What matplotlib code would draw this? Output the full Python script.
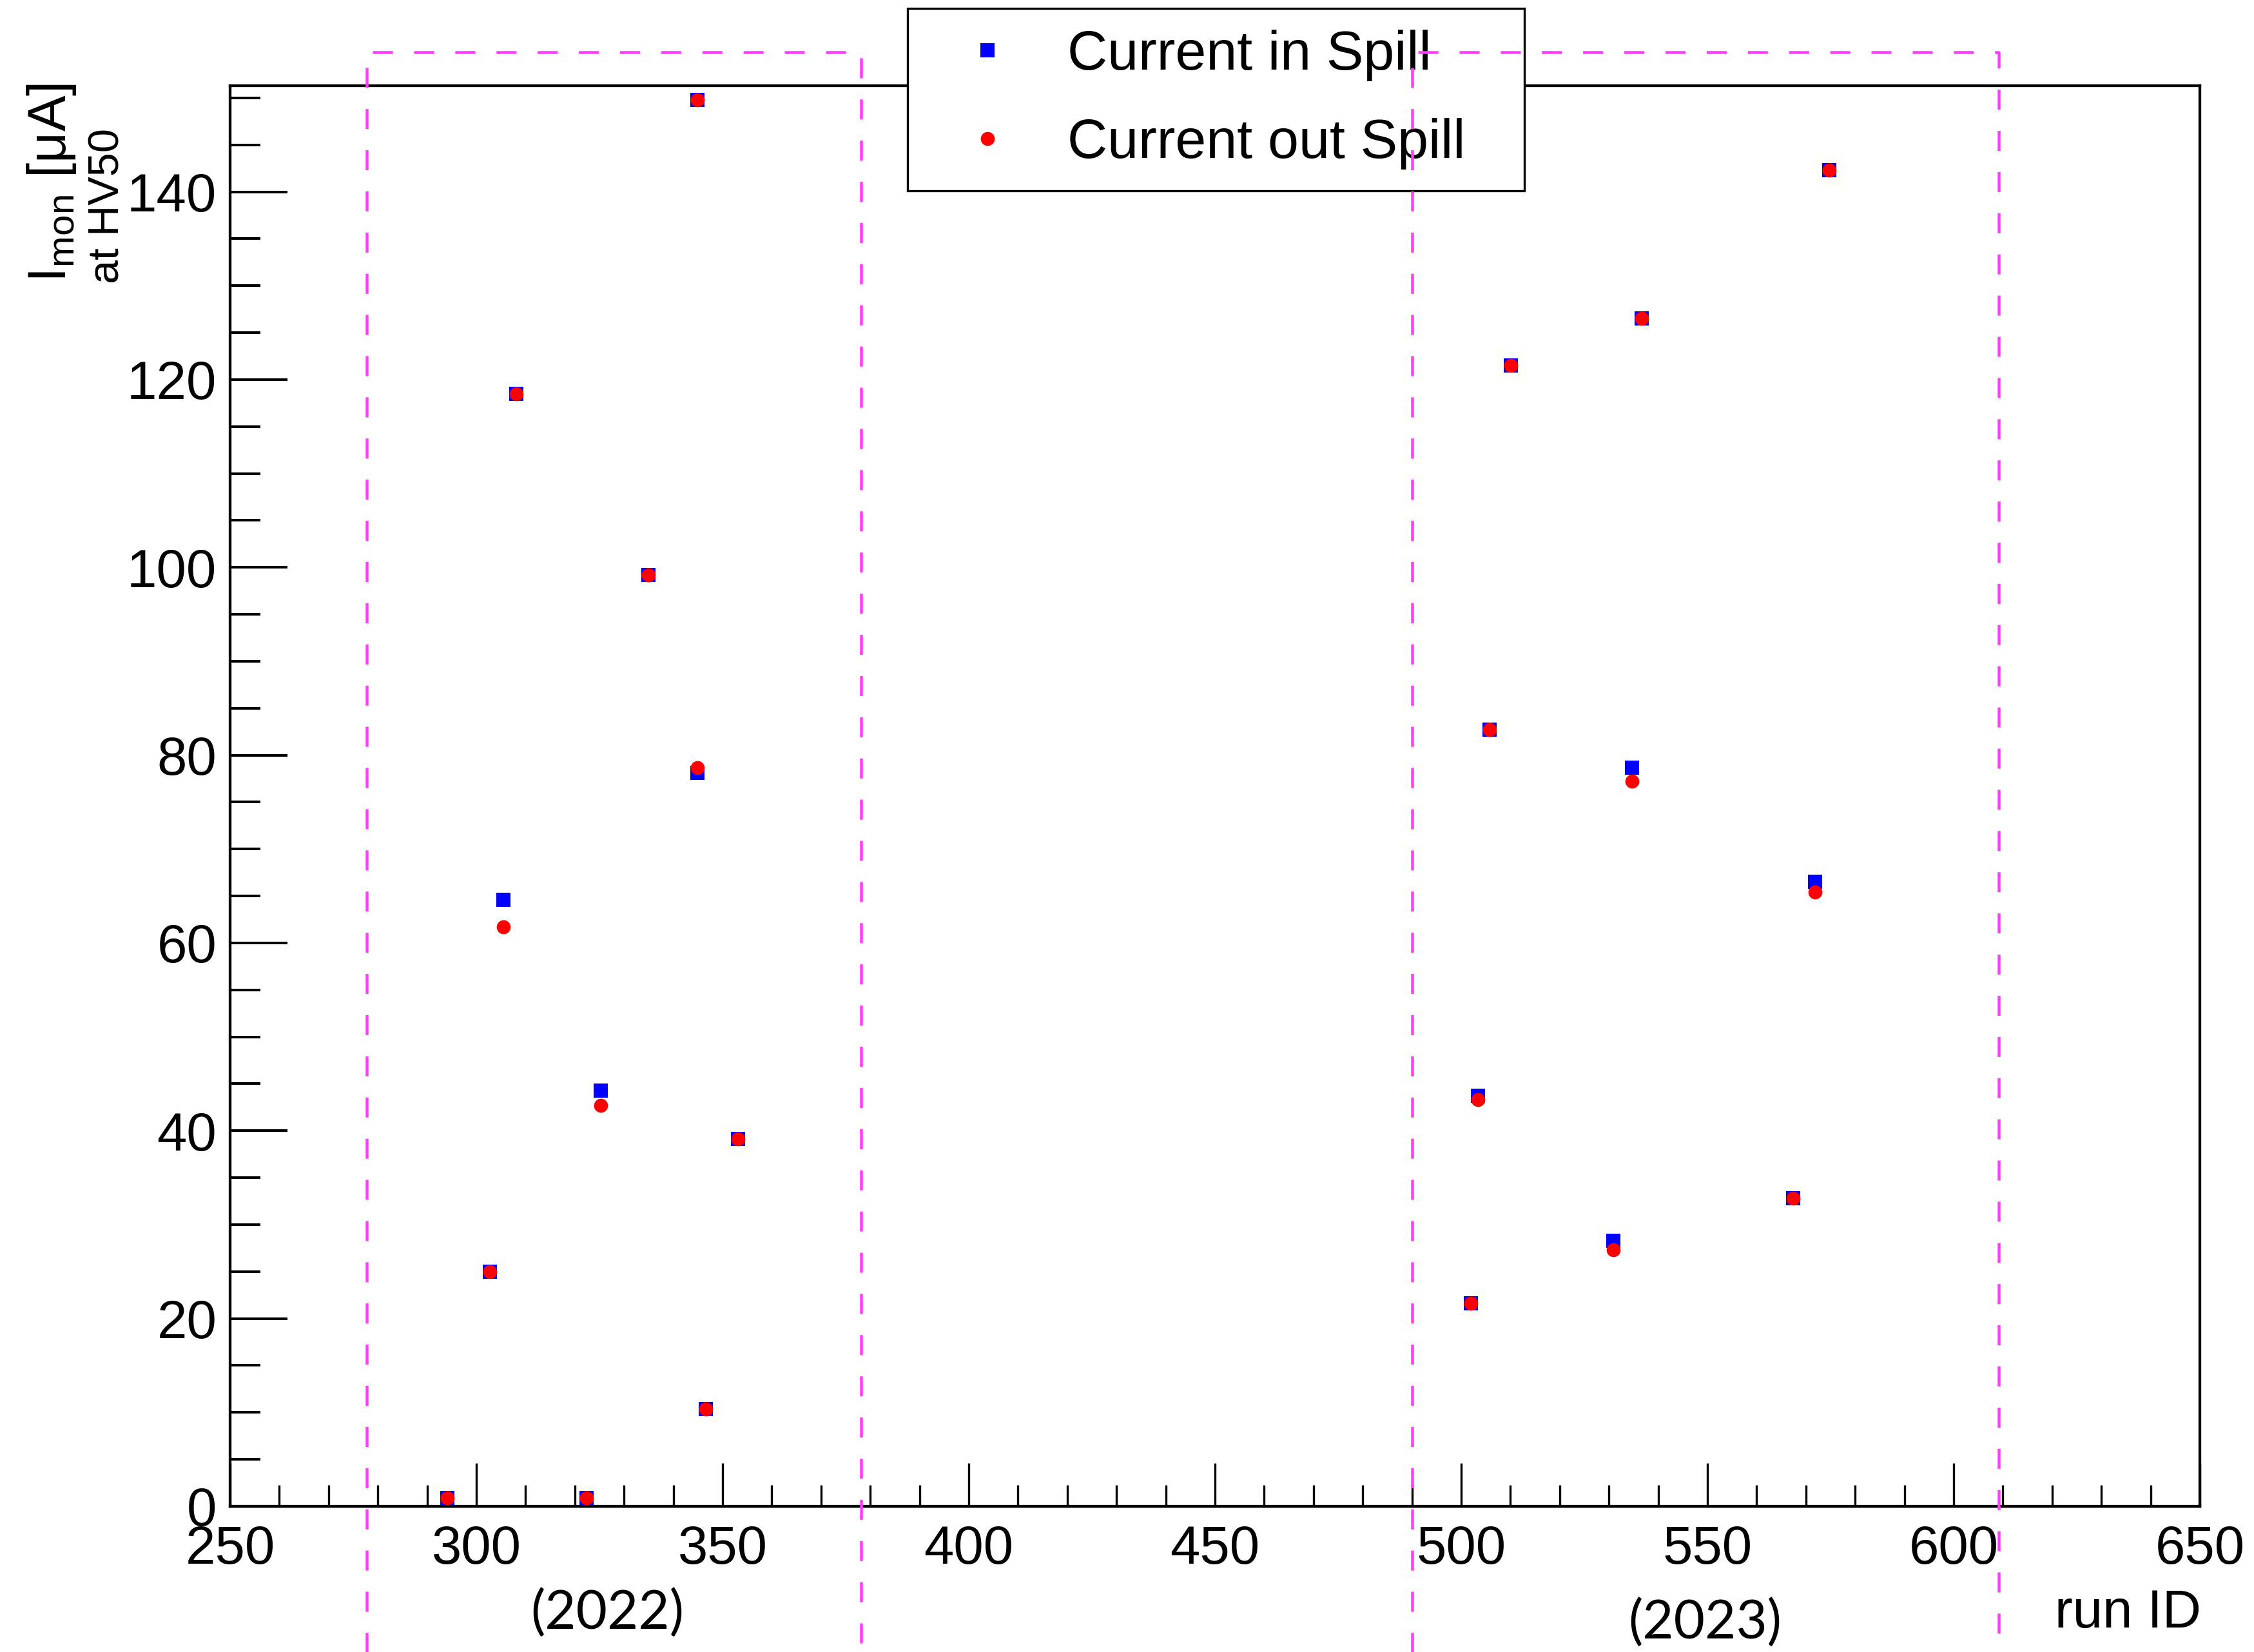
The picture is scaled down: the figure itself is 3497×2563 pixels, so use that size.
import matplotlib
matplotlib.use('Agg')
import matplotlib.pyplot as plt
from matplotlib.ticker import MultipleLocator

run_id = [294.1, 302.8, 305.5, 308.1, 322.4, 325.3, 335.0, 344.9, 344.9, 346.6, 353.1,
          502.0, 503.4, 505.8, 510.1, 530.9, 534.7, 536.7, 567.4, 571.8, 574.7]
current_in_spill = [0.9, 25.0, 64.6, 118.5, 0.9, 44.3, 99.2, 149.8, 78.1, 10.4, 39.1,
                    21.6, 43.7, 82.7, 121.5, 28.3, 78.7, 126.5, 32.8, 66.5, 142.3]
current_out_spill = [0.9, 25.0, 61.7, 118.5, 0.9, 42.7, 99.2, 149.8, 78.7, 10.4, 39.1,
                     21.6, 43.3, 82.7, 121.5, 27.3, 77.2, 126.5, 32.8, 65.4, 142.3]

# run ranges of the two data-taking periods
period_bounds = [(277.7, 378.1), (490.0, 609.2)]
period_labels = ['(2022)', '(2023)']

W, H = 3498, 2563
DPI = 200
plt.rcParams['font.family'] = 'Liberation Sans'
plt.rcParams['mathtext.fontset'] = 'custom'
plt.rcParams['mathtext.rm'] = 'Liberation Sans'
plt.rcParams['mathtext.it'] = 'Liberation Sans:italic'

fig = plt.figure(figsize=(W / DPI, H / DPI), dpi=DPI)
ax = fig.add_axes([357 / W, 1 - 2337 / H, (3413 - 357) / W, (2337 - 133) / H])

ax.plot(run_id, current_in_spill, 's', color='blue', ms=7.8, mew=0, label='Current in Spill', zorder=3)
ax.plot(run_id, current_out_spill, 'o', color='red', ms=7.8, mew=0, label='Current out Spill', zorder=4)

ax.set_xlim(250, 650)
ax.set_ylim(0, 151.3)
ax.set_xticks(range(250, 651, 50))
ax.xaxis.set_minor_locator(MultipleLocator(10))
ax.set_yticks(range(0, 141, 20))
ax.yaxis.set_minor_locator(MultipleLocator(5))

ax.tick_params(axis='both', which='both', direction='in', top=False, right=False, labelsize=30)
ax.tick_params(axis='x', which='major', length=24, width=1.2, pad=10)
ax.tick_params(axis='x', which='minor', length=12, width=1.2)
ax.tick_params(axis='y', which='major', length=32, width=1.45, pad=7.5)
ax.tick_params(axis='y', which='minor', length=17, width=1.45)
for s in ax.spines.values():
    s.set_linewidth(1.55)

# dashed boxes marking the two periods (drawn past the axes)
y_top = 154.9
y_bot = -16
for x0, x1 in period_bounds:
    ax.plot([x0, x0, x1, x1], [y_bot, y_top, y_top, y_bot], color='#ff3dff', lw=1.62,
            dashes=(6.9, 7.3), clip_on=False, zorder=6)

ax.text(326.6, -13.1, period_labels[0], ha='center', va='baseline', fontsize=30,
        family='Lato', clip_on=False)
ax.text(549.5, -14.1, period_labels[1], ha='center', va='baseline', fontsize=30,
        family='Lato', clip_on=False)

fig.text(3415 / W, 1 - 2525 / H, 'run ID', ha='right', va='baseline', fontsize=30)
fig.text(102 / W, 1 - 438 / H, r'I$_{\mathrm{mon}}$ [μA]', rotation=90, rotation_mode='anchor',
         ha='left', va='baseline', fontsize=30)
fig.text(185 / W, 1 - 440 / H, 'at HV50', rotation=90, rotation_mode='anchor',
         ha='left', va='baseline', fontsize=24)

leg = ax.legend(loc='upper left', bbox_to_anchor=(1408 / W, 1 - 292 / H, 957 / W, 279 / H),
                bbox_transform=fig.transFigure, mode='expand', borderaxespad=0,
                borderpad=0.38, labelspacing=0.67, handlelength=2.13, handletextpad=0.365,
                fontsize=31, fancybox=False, edgecolor='black', framealpha=1, numpoints=1)
leg.get_frame().set_linewidth(1.2)

fig.savefig('out.png', dpi=DPI)
